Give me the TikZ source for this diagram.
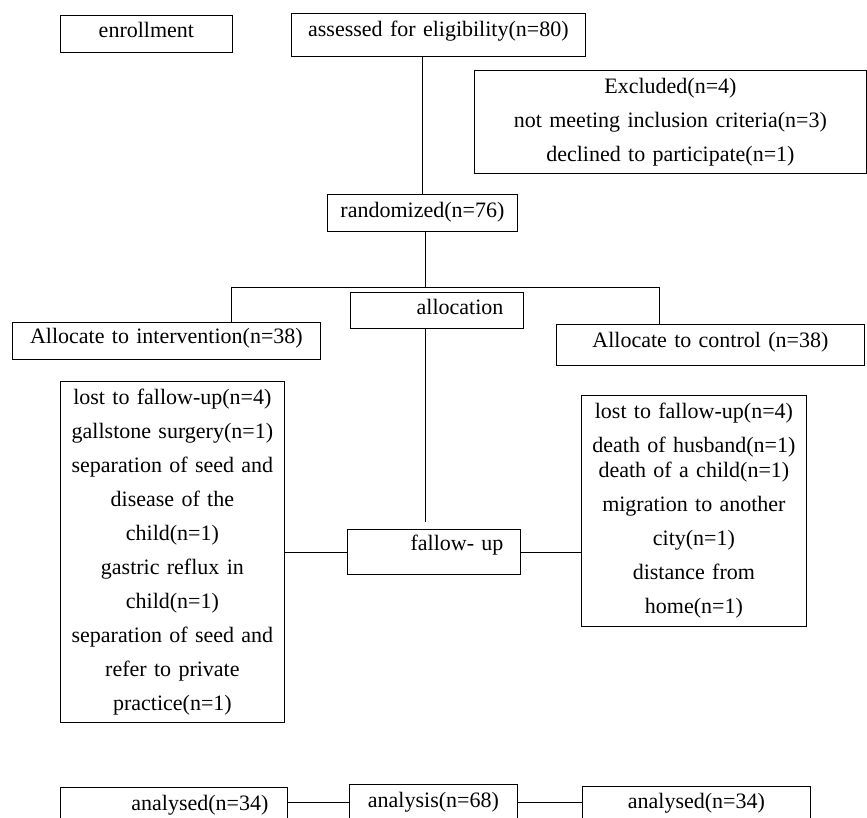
\documentclass[tikz,border=0pt]{standalone}
\usepackage{fontspec}
\setmainfont{Liberation Serif}
\begin{document}
\begin{tikzpicture}[x=1pt,y=-1pt,line width=0.8pt,
  box/.style={draw,anchor=north west,inner sep=0pt,align=center,font=\fontsize{22}{34}\selectfont}]
\clip (0,0) rectangle (867,818);
\node[box,text width=172pt,text height=22pt,text depth=15pt] (enroll) at (60,15) {enrollment};
\node[box,text width=294pt,text height=23pt,text depth=20pt] (assess) at (291,13) {assessed for eligibility(n=80)};
\node[box,text width=392pt,minimum height=103pt] (excl) at (474,70) {Excluded(n=4)\\not meeting inclusion criteria(n=3)\\declined to participate(n=1)};
\node[box,text width=190pt,text height=22.7pt,text depth=14.3pt] (rand) at (327,194) {randomized(n=76)};
\node[box,align=right,inner xsep=20pt,text width=133pt,text height=22pt,text depth=14pt] (alloc) at (350,292) {allocation};
\node[box,text width=308pt,text height=21.3pt,text depth=15.7pt] (interv) at (12,322) {Allocate to intervention(n=38)};
\node[box,text width=308pt,text height=23pt,text depth=18pt] (ctrl) at (556,324) {Allocate to control (n=38)};
\node[box,text width=224pt,minimum height=341pt] (lostL) at (60,381) {lost to fallow-up(n=4)\\gallstone surgery(n=1)\\separation of seed and\\disease of the\\child(n=1)\\gastric reflux in\\child(n=1)\\separation of seed and\\refer to private\\practice(n=1)};
\node[box,align=right,inner xsep=17pt,text width=139pt,text height=21.5pt,text depth=23.5pt] (follow) at (347,529) {fallow- up};
\node[box,text width=225pt,minimum height=231pt] (lostR) at (581,395) {lost to fallow-up(n=4)\\death of husband(n=1)\\[-9pt]death of a child(n=1)\\migration to another\\city(n=1)\\distance from\\home(n=1)};
\node[box,align=right,inner xsep=19pt,text width=189pt,text height=23pt,text depth=30pt] (anL) at (60,787) {analysed(n=34)};
\node[box,text width=168pt,text height=22.7pt,text depth=33pt] (anC) at (349,784) {analysis(n=68)};
\node[box,text width=228pt,text height=21.7pt,text depth=32pt] (anR) at (582,786) {analysed(n=34)};
\coordinate (busL) at (231,287);
\coordinate (busR) at (659,287);
\coordinate (spine) at (425,0);
\coordinate (arow) at (0,802);
\draw (rand.north) -- (rand.north |- assess.south);
\draw (spine |- rand.south) -- (spine |- busL);
\draw (busL) -- (busR);
\draw (busL) -- (busL |- interv.north);
\draw (busR) -- (busR |- ctrl.north);
\draw[shorten >=7pt] (spine |- alloc.south) -- (spine |- follow.north);
\draw (lostL.east) -- (lostL.east -| follow.west);
\draw (follow.east) -- (follow.east -| lostR.west);
\draw (anL.east |- arow) -- (anC.west |- arow);
\draw (anC.east |- arow) -- (anR.west |- arow);
\end{tikzpicture}
\end{document}
